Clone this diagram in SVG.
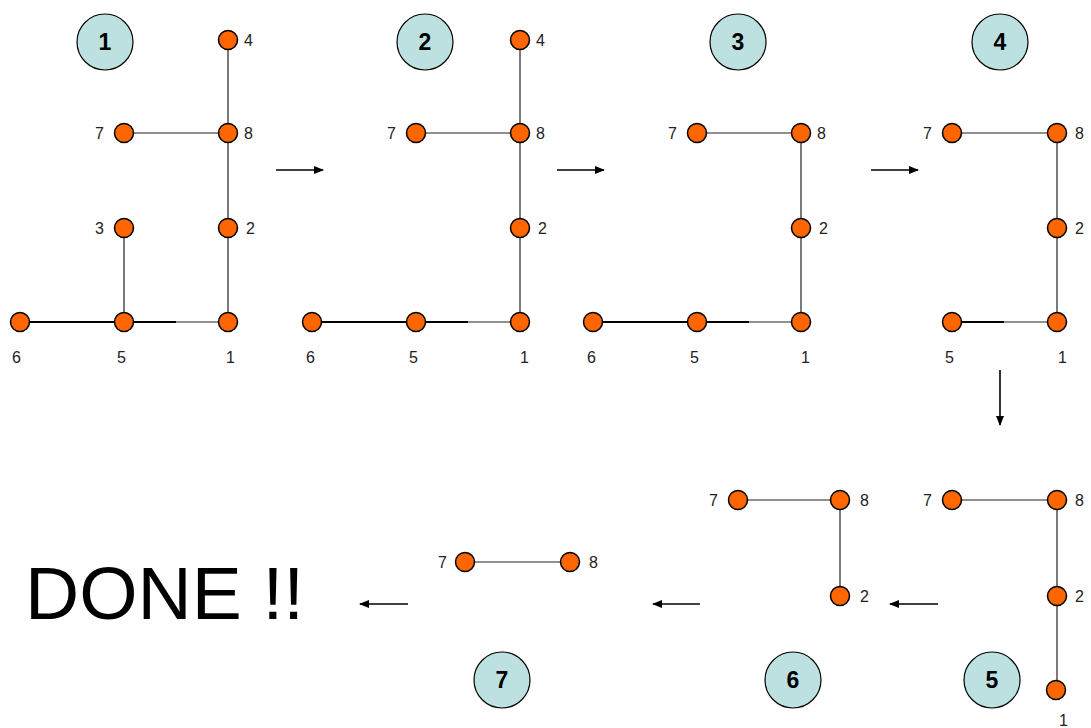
<svg xmlns="http://www.w3.org/2000/svg" width="1091" height="728" viewBox="0 0 1091 728">
<style>
.n{fill:#ff6600;stroke:#000;stroke-width:1.5}
.b{fill:#bde0e0;stroke:#000;stroke-width:1.2}
.bt{font-family:"Liberation Sans",Arial,sans-serif;font-weight:bold;font-size:23px;text-anchor:middle;fill:#000}
.l{font-family:"Liberation Sans",Arial,sans-serif;font-size:16px;fill:#222}
.e{stroke:#222;stroke-width:1.2;fill:none}
.t{stroke:#000;stroke-width:2.2;fill:none}
.a{stroke:#000;stroke-width:1.6;fill:none;marker-end:url(#ah)}
</style>
<defs>
<marker id="ah" markerWidth="10" markerHeight="8" refX="9" refY="4" orient="auto" markerUnits="userSpaceOnUse">
<path d="M0,0 L10,4 L0,8 Z" fill="#000"/>
</marker>
</defs>
<rect width="1091" height="728" fill="#fff"/>
<g id="connectors">
<line class="e" x1="228" y1="40" x2="228" y2="322"/>
<line class="e" x1="124" y1="133" x2="228" y2="133"/>
<line class="e" x1="124" y1="228" x2="124" y2="322"/>
<line class="t" x1="20" y1="322" x2="176" y2="322"/>
<line class="e" x1="176" y1="322" x2="228" y2="322"/>
<line class="e" x1="520" y1="40" x2="520" y2="322"/>
<line class="e" x1="416" y1="133" x2="520" y2="133"/>
<line class="t" x1="312" y1="322" x2="468" y2="322"/>
<line class="e" x1="468" y1="322" x2="520" y2="322"/>
<line class="e" x1="801" y1="133" x2="801" y2="322"/>
<line class="e" x1="697" y1="133" x2="801" y2="133"/>
<line class="t" x1="593" y1="322" x2="749" y2="322"/>
<line class="e" x1="749" y1="322" x2="801" y2="322"/>
<line class="e" x1="1057" y1="133" x2="1057" y2="322"/>
<line class="e" x1="952" y1="133" x2="1057" y2="133"/>
<line class="t" x1="952" y1="322" x2="1004" y2="322"/>
<line class="e" x1="1004" y1="322" x2="1057" y2="322"/>
<line class="e" x1="952" y1="500" x2="1057" y2="500"/>
<line class="e" x1="1057" y1="500" x2="1057" y2="690"/>
<line class="e" x1="738" y1="500" x2="840" y2="500"/>
<line class="e" x1="840" y1="500" x2="840" y2="596"/>
<line class="e" x1="465" y1="562" x2="570" y2="562"/>
<line class="a" x1="276" y1="170" x2="323" y2="170"/>
<line class="a" x1="557" y1="170" x2="604" y2="170"/>
<line class="a" x1="871" y1="170" x2="918" y2="170"/>
<line class="a" x1="1000" y1="370" x2="1000" y2="425"/>
<line class="a" x1="938" y1="604" x2="890" y2="604"/>
<line class="a" x1="700" y1="604" x2="653" y2="604"/>
<line class="a" x1="408" y1="604" x2="360" y2="604"/>
</g>
<g id="badges">
<g id="badge1"><circle class="b" cx="105" cy="42" r="28"/><text class="bt" x="105" y="50">1</text></g>
<g id="badge2"><circle class="b" cx="425" cy="42" r="28"/><text class="bt" x="425" y="50">2</text></g>
<g id="badge3"><circle class="b" cx="738" cy="42" r="28"/><text class="bt" x="738" y="50">3</text></g>
<g id="badge4"><circle class="b" cx="1000" cy="42" r="28"/><text class="bt" x="1000" y="50">4</text></g>
<g id="badge5"><circle class="b" cx="992" cy="680" r="28"/><text class="bt" x="992" y="688">5</text></g>
<g id="badge6"><circle class="b" cx="793" cy="680" r="28"/><text class="bt" x="793" y="688">6</text></g>
<g id="badge7"><circle class="b" cx="502" cy="680" r="28"/><text class="bt" x="502" y="688">7</text></g>
</g>
<g id="p1">
<g id="p1n4"><circle class="n" cx="228" cy="40" r="9.5"/><text class="l" x="244" y="46">4</text></g>
<g id="p1n8"><circle class="n" cx="228" cy="133" r="9.5"/><text class="l" x="244" y="139">8</text></g>
<g id="p1n7"><circle class="n" cx="124" cy="133" r="9.5"/><text class="l" x="95" y="139">7</text></g>
<g id="p1n3"><circle class="n" cx="124" cy="228" r="9.5"/><text class="l" x="95" y="234">3</text></g>
<g id="p1n2"><circle class="n" cx="228" cy="228" r="9.5"/><text class="l" x="246" y="234">2</text></g>
<g id="p1n1"><circle class="n" cx="228" cy="322" r="9.5"/><text class="l" x="226" y="363">1</text></g>
<g id="p1n5"><circle class="n" cx="124" cy="322" r="9.5"/><text class="l" x="117" y="363">5</text></g>
<g id="p1n6"><circle class="n" cx="20" cy="322" r="9.5"/><text class="l" x="12" y="363">6</text></g>
</g>
<g id="p2">
<g id="p2n4"><circle class="n" cx="520" cy="40" r="9.5"/><text class="l" x="536" y="46">4</text></g>
<g id="p2n8"><circle class="n" cx="520" cy="133" r="9.5"/><text class="l" x="536" y="139">8</text></g>
<g id="p2n7"><circle class="n" cx="416" cy="133" r="9.5"/><text class="l" x="387" y="139">7</text></g>
<g id="p2n2"><circle class="n" cx="520" cy="228" r="9.5"/><text class="l" x="538" y="234">2</text></g>
<g id="p2n1"><circle class="n" cx="520" cy="322" r="9.5"/><text class="l" x="520" y="363">1</text></g>
<g id="p2n5"><circle class="n" cx="416" cy="322" r="9.5"/><text class="l" x="409" y="363">5</text></g>
<g id="p2n6"><circle class="n" cx="312" cy="322" r="9.5"/><text class="l" x="306" y="363">6</text></g>
</g>
<g id="p3">
<g id="p3n7"><circle class="n" cx="697" cy="133" r="9.5"/><text class="l" x="668" y="139">7</text></g>
<g id="p3n8"><circle class="n" cx="801" cy="133" r="9.5"/><text class="l" x="817" y="139">8</text></g>
<g id="p3n2"><circle class="n" cx="801" cy="228" r="9.5"/><text class="l" x="819" y="234">2</text></g>
<g id="p3n1"><circle class="n" cx="801" cy="322" r="9.5"/><text class="l" x="801" y="363">1</text></g>
<g id="p3n5"><circle class="n" cx="697" cy="322" r="9.5"/><text class="l" x="690" y="363">5</text></g>
<g id="p3n6"><circle class="n" cx="593" cy="322" r="9.5"/><text class="l" x="587" y="363">6</text></g>
</g>
<g id="p4">
<g id="p4n7"><circle class="n" cx="952" cy="133" r="9.5"/><text class="l" x="923" y="139">7</text></g>
<g id="p4n8"><circle class="n" cx="1057" cy="133" r="9.5"/><text class="l" x="1075" y="139">8</text></g>
<g id="p4n2"><circle class="n" cx="1057" cy="228" r="9.5"/><text class="l" x="1075" y="234">2</text></g>
<g id="p4n1"><circle class="n" cx="1057" cy="322" r="9.5"/><text class="l" x="1058" y="363">1</text></g>
<g id="p4n5"><circle class="n" cx="952" cy="322" r="9.5"/><text class="l" x="945" y="363">5</text></g>
</g>
<g id="p5">
<g id="p5n7"><circle class="n" cx="952" cy="500" r="9.5"/><text class="l" x="923" y="506">7</text></g>
<g id="p5n8"><circle class="n" cx="1057" cy="500" r="9.5"/><text class="l" x="1075" y="506">8</text></g>
<g id="p5n2"><circle class="n" cx="1057" cy="596" r="9.5"/><text class="l" x="1075" y="602">2</text></g>
<g id="p5n1"><circle class="n" cx="1056" cy="690" r="9.5"/><text class="l" x="1059" y="726">1</text></g>
</g>
<g id="p6">
<g id="p6n7"><circle class="n" cx="738" cy="500" r="9.5"/><text class="l" x="709" y="506">7</text></g>
<g id="p6n8"><circle class="n" cx="840" cy="500" r="9.5"/><text class="l" x="860" y="506">8</text></g>
<g id="p6n2"><circle class="n" cx="840" cy="596" r="9.5"/><text class="l" x="860" y="602">2</text></g>
</g>
<g id="p7">
<g id="p7n7"><circle class="n" cx="465" cy="562" r="9.5"/><text class="l" x="438" y="568">7</text></g>
<g id="p7n8"><circle class="n" cx="570" cy="562" r="9.5"/><text class="l" x="589" y="568">8</text></g>
</g>
<g id="done">
<text x="25" y="619" font-family="Liberation Sans, Arial, sans-serif" font-size="75" fill="#000">DONE !!</text>
</g>
</svg>
